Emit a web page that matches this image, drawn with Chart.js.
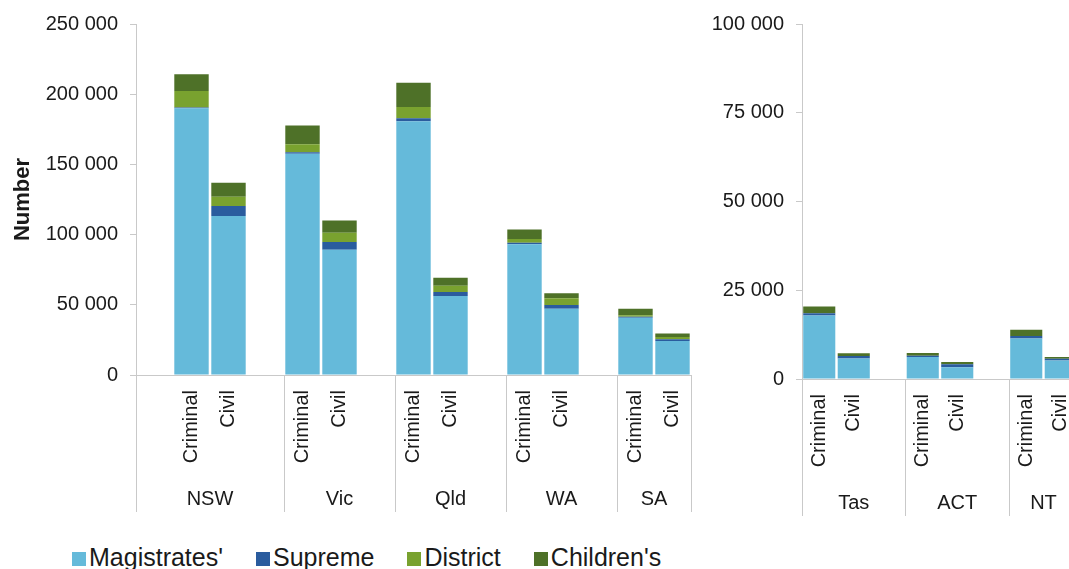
<!DOCTYPE html>
<html lang="en">
<head>
<meta charset="utf-8">
<title>Lodgements by court level</title>
<script src="https://cdn.jsdelivr.net/npm/chart.js@4.4.1/dist/chart.umd.min.js"></script>
<style>
    html, body { margin: 0; padding: 0; background: #fff; overflow: hidden; }
    #wrap { position: relative; width: 1069px; height: 569px; overflow: hidden; font-family: "Liberation Sans", Arial, sans-serif; }
    #leftChart { position: absolute; left: 0; top: 0; }
    #rightChart { position: absolute; left: 690px; top: 0; }
    #legend { position: absolute; left: 72px; top: 542px; display: flex; align-items: center; font-size: 25px; color: #1a1a1a; line-height: 30px; }
    #legend .item { display: flex; align-items: center; margin-right: 33px; }
    #legend .box { width: 14px; height: 14px; margin-right: 3px; margin-top: 3px; }
</style>
</head>
<body>
<div id="wrap">
    <canvas id="leftChart" width="711" height="530"></canvas>
    <canvas id="rightChart" width="400" height="530"></canvas>
    <div id="legend"></div>
</div>

<script>
    // jurisdictions, left panel then right panel
    const LEFT_STATES = ['NSW', 'Vic', 'Qld', 'WA', 'SA'];
    const RIGHT_STATES = ['Tas', 'ACT', 'NT'];
    const COURT_TYPES = ['Criminal', 'Civil'];
    const SERIES = ["Magistrates'", 'Supreme', 'District', "Children's"];
    const COLORS = ['#65BADA', '#2A5C9E', '#79A22F', '#4E7128'];

    // values in order NSW, Vic, Qld, WA, SA, Tas, ACT, NT
    const magistratesCriminal = [190000, 157600, 180700, 93100, 40800, 17900, 6200, 11400];
    const magistratesCivil    = [113200, 89200, 56300, 47200, 24200, 5800, 3300, 5200];
    const supremeCriminal     = [500, 1100, 2100, 1100, 700, 640, 370, 720];
    const supremeCivil        = [7100, 5500, 2800, 2600, 1200, 650, 830, 470];
    const districtCriminal    = [11800, 5700, 8100, 2600, 1000, 0, 0, 0];
    const districtCivil       = [6600, 6600, 4500, 4800, 1600, 0, 0, 0];
    const childrensCriminal   = [11900, 13300, 17300, 6900, 4700, 1850, 750, 1770];
    const childrensCivil      = [10000, 8800, 5700, 3600, 2600, 830, 660, 550];

    const LEFT_TICKS = { max: 250000, step: 50000 };
    const RIGHT_TICKS = { max: 100000, step: 25000 };

    const TEXT = '#1a1a1a';
    const AXIS = '#c9c9c9';
    const FONT = '"Liberation Sans", Arial, sans-serif';

    const seriesValues = [
        [magistratesCriminal, magistratesCivil],
        [supremeCriminal, supremeCivil],
        [districtCriminal, districtCivil],
        [childrensCriminal, childrensCivil]
    ];

    // builds the slot list: blank spacer slots between the groups, as in the original sheet
    function buildPanel(states, offset, leadingBlank) {
        var labels = [];
        var groups = [];
        var data = SERIES.map(function () { return []; });

        function blank() {
            labels.push('');
            data.forEach(function (d) { d.push(null); });
        }

        states.forEach(function (st, i) {
            var from = labels.length;
            if (i === 0 && leadingBlank) blank();
            COURT_TYPES.forEach(function (ct, k) {
                labels.push(ct);
                seriesValues.forEach(function (pair, s) {
                    data[s].push(pair[k][offset + i]);
                });
            });
            if (i < states.length - 1) blank();
            groups.push({ name: st, from: from, to: labels.length - 1 });
        });
        return { labels: labels, groups: groups, data: data };
    }

    function fmt(v) {
        return String(v).replace(/\B(?=(\d{3})+(?!\d))/g, ' ');
    }

    const groupLabels = {
        id: 'groupLabels',
        afterDraw(chart, args, opts) {
            const x = chart.scales.x;
            const ctx = chart.ctx;
            const half = (x.getPixelForValue(1) - x.getPixelForValue(0)) / 2;
            ctx.save();
            ctx.font = '20px ' + FONT;
            ctx.fillStyle = TEXT;
            ctx.textAlign = 'center';
            ctx.textBaseline = 'middle';
            opts.groups.forEach(function (g) {
                const l = x.getPixelForValue(g.from) - half;
                const r = x.getPixelForValue(g.to) + half;
                ctx.fillText(g.name, (l + r) / 2, chart.chartArea.bottom + opts.offset);
            });
            ctx.restore();
        }
    };

    function makeChart(id, panel, ticks, layout) {
        const bounds = panel.groups.map(function (g) { return g.from; });
        new Chart(document.getElementById(id), {
            type: 'bar',
            data: {
                labels: panel.labels,
                datasets: SERIES.map(function (name, s) {
                    return {
                        label: name,
                        data: panel.data[s],
                        backgroundColor: COLORS[s],
                        borderWidth: 0,
                        barPercentage: 0.93,
                        categoryPercentage: 1
                    };
                })
            },
            options: {
                responsive: false,
                animation: false,
                events: [],
                layout: { padding: layout.padding },
                plugins: {
                    legend: { display: false },
                    tooltip: { enabled: false },
                    groupLabels: { groups: panel.groups, offset: 124 }
                },
                scales: {
                    x: {
                        stacked: true,
                        offset: true,
                        border: { display: true, color: AXIS },
                        grid: {
                            offset: true,
                            drawOnChartArea: false,
                            tickLength: 137,
                            color: function (c) {
                                return (c.index === undefined || bounds.indexOf(c.index) >= 0) ? AXIS : 'rgba(0,0,0,0)';
                            }
                        },
                        ticks: {
                            autoSkip: false,
                            minRotation: 90,
                            maxRotation: 90,
                            padding: 15 - 137,
                            color: TEXT,
                            font: { family: FONT, size: 20 }
                        },
                        afterFit: function (s) { s.height = layout.xHeight; }
                    },
                    y: {
                        stacked: true,
                        min: 0,
                        max: ticks.max,
                        border: { display: true, color: AXIS },
                        grid: { drawOnChartArea: false, tickLength: 6, color: AXIS },
                        ticks: {
                            stepSize: ticks.step,
                            padding: 12,
                            color: TEXT,
                            font: { family: FONT, size: 20 },
                            callback: function (v) { return fmt(v); }
                        },
                        title: layout.title ? {
                            display: true,
                            text: layout.title,
                            color: TEXT,
                            font: { family: FONT, size: 22, weight: 'bold' },
                            padding: { top: 10, bottom: 0 }
                        } : { display: false },
                        afterFit: function (s) { s.width = layout.yWidth; }
                    }
                }
            },
            plugins: [groupLabels]
        });
    }

    const leftPanel = buildPanel(LEFT_STATES, 0, true);
    const rightPanel = buildPanel(RIGHT_STATES, LEFT_STATES.length, false);

    makeChart('leftChart', leftPanel, LEFT_TICKS, {
        padding: { top: 24, right: 20, bottom: 0, left: 0 },
        xHeight: 155, yWidth: 136, title: 'Number'
    });
    makeChart('rightChart', rightPanel, RIGHT_TICKS, {
        padding: { top: 21, right: 12, bottom: 0, left: 0 },
        xHeight: 151, yWidth: 112, title: null
    });

    // legend
    const legend = document.getElementById('legend');
    SERIES.forEach(function (name, s) {
        const item = document.createElement('div');
        item.className = 'item';
        const box = document.createElement('span');
        box.className = 'box';
        box.style.background = COLORS[s];
        const txt = document.createElement('span');
        txt.textContent = name;
        item.appendChild(box);
        item.appendChild(txt);
        legend.appendChild(item);
    });
</script>
</body>
</html>
